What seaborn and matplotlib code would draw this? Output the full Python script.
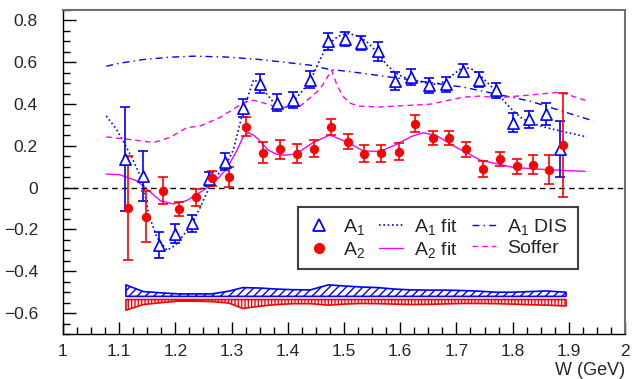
import numpy as np
import pandas as pd
import seaborn as sns
import matplotlib.pyplot as plt
from matplotlib.lines import Line2D
from matplotlib.ticker import MultipleLocator


# measured asymmetries
w_a1 = [1.110, 1.142, 1.171, 1.200, 1.230, 1.260, 1.289, 1.320, 1.350, 1.381, 1.410, 1.440, 1.471, 1.501,
        1.530, 1.560, 1.591, 1.620, 1.651, 1.681, 1.711, 1.741, 1.771, 1.801, 1.830, 1.860, 1.884]
a1 = [0.138, 0.054, -0.273, -0.221, -0.170, 0.041, 0.125, 0.382, 0.498, 0.406, 0.419, 0.517, 0.700, 0.711,
      0.692, 0.652, 0.510, 0.529, 0.489, 0.494, 0.560, 0.516, 0.465, 0.311, 0.327, 0.351, 0.184]
a1_err = [0.25, 0.12, 0.062, 0.045, 0.04, 0.035, 0.04, 0.042, 0.045, 0.041, 0.04, 0.04, 0.04, 0.035,
          0.035, 0.045, 0.045, 0.04, 0.035, 0.035, 0.03, 0.035, 0.035, 0.045, 0.04, 0.052, 0.135]

w_a2 = [1.116, 1.148, 1.178, 1.207, 1.236, 1.266, 1.296, 1.326, 1.356, 1.386, 1.416, 1.446, 1.476, 1.507,
        1.536, 1.566, 1.597, 1.626, 1.658, 1.687, 1.717, 1.747, 1.777, 1.807, 1.836, 1.865, 1.890]
a2 = [-0.097, -0.138, -0.014, -0.102, -0.046, 0.044, 0.049, 0.292, 0.168, 0.184, 0.163, 0.187, 0.290, 0.220,
      0.163, 0.165, 0.173, 0.306, 0.237, 0.237, 0.183, 0.089, 0.137, 0.102, 0.110, 0.086, 0.205]
a2_err = [0.25, 0.12, 0.063, 0.035, 0.04, 0.035, 0.048, 0.045, 0.05, 0.045, 0.045, 0.04, 0.04, 0.035,
          0.04, 0.04, 0.04, 0.04, 0.035, 0.035, 0.035, 0.04, 0.035, 0.035, 0.045, 0.07, 0.25]

# fits and models
w_a1fit = [1.077, 1.095, 1.110, 1.125, 1.142, 1.152, 1.167, 1.185, 1.200, 1.215, 1.230, 1.245, 1.260, 1.275,
           1.290, 1.303, 1.320, 1.339, 1.351, 1.362, 1.381, 1.398, 1.410, 1.425, 1.440, 1.455, 1.471, 1.490,
           1.505, 1.520, 1.540, 1.560, 1.575, 1.591, 1.605, 1.620, 1.651, 1.665, 1.681, 1.696, 1.711, 1.726,
           1.741, 1.756, 1.771, 1.786, 1.801, 1.815, 1.830, 1.860, 1.895, 1.932]
a1fit = [0.343, 0.28, 0.208, 0.13, 0.03, -0.125, -0.237, -0.300, -0.275, -0.225, -0.170, -0.09, 0.00, 0.06,
         0.11, 0.18, 0.36, 0.517, 0.50, 0.45, 0.386, 0.386, 0.414, 0.46, 0.51, 0.60, 0.684, 0.725,
         0.737, 0.73, 0.70, 0.645, 0.59, 0.549, 0.53, 0.517, 0.497, 0.495, 0.51, 0.545, 0.575, 0.57,
         0.54, 0.50, 0.46, 0.41, 0.367, 0.335, 0.311, 0.287, 0.265, 0.243]

w_a2fit = [1.077, 1.101, 1.131, 1.149, 1.173, 1.196, 1.220, 1.244, 1.266, 1.291, 1.309, 1.320, 1.330, 1.340,
           1.350, 1.365, 1.380, 1.395, 1.410, 1.425, 1.445, 1.475, 1.507, 1.534, 1.564, 1.594, 1.620, 1.641,
           1.665, 1.700, 1.720, 1.742, 1.801, 1.861, 1.929]
a2fit = [0.065, 0.062, 0.033, -0.006, -0.062, -0.078, -0.062, -0.022, 0.017, 0.089, 0.176, 0.24, 0.263, 0.25,
         0.224, 0.18, 0.16, 0.155, 0.16, 0.18, 0.216, 0.252, 0.216, 0.176, 0.173, 0.208, 0.245, 0.263,
         0.248, 0.192, 0.165, 0.132, 0.097, 0.086, 0.078]

w_dis = [1.077, 1.100, 1.143, 1.190, 1.232, 1.290, 1.350, 1.440, 1.475, 1.505, 1.594, 1.712, 1.831, 1.944]
a1_dis = [0.581, 0.595, 0.613, 0.624, 0.629, 0.625, 0.613, 0.586, 0.565, 0.557, 0.525, 0.481, 0.414, 0.319]

w_soffer = [1.077, 1.113, 1.161, 1.190, 1.220, 1.244, 1.279, 1.321, 1.339, 1.362, 1.386, 1.422, 1.457, 1.478,
            1.487, 1.497, 1.510, 1.525, 1.564, 1.653, 1.712, 1.742, 1.772, 1.831, 1.884, 1.929]
soffer = [0.243, 0.232, 0.216, 0.240, 0.287, 0.295, 0.335, 0.406, 0.418, 0.401, 0.382, 0.390, 0.470, 0.562,
          0.494, 0.440, 0.405, 0.390, 0.386, 0.399, 0.433, 0.438, 0.430, 0.443, 0.457, 0.418]

# systematic bands
w_sys = [1.112, 1.143, 1.175, 1.205, 1.235, 1.265, 1.295, 1.320, 1.350, 1.380, 1.410, 1.440, 1.472, 1.500,
         1.530, 1.560, 1.590, 1.620, 1.650, 1.680, 1.710, 1.740, 1.770, 1.800, 1.830, 1.860, 1.895]
a1_sys = [0.055, 0.023, 0.017, 0.012, 0.012, 0.012, 0.025, 0.042, 0.040, 0.035, 0.032, 0.031, 0.055, 0.050,
          0.045, 0.042, 0.035, 0.031, 0.030, 0.030, 0.028, 0.025, 0.020, 0.020, 0.023, 0.026, 0.020]
a2_sys = [0.051, 0.024, 0.015, 0.008, 0.008, 0.010, 0.017, 0.043, 0.032, 0.024, 0.020, 0.020, 0.027, 0.022,
          0.019, 0.020, 0.022, 0.024, 0.023, 0.021, 0.019, 0.019, 0.020, 0.022, 0.025, 0.027, 0.031]
a1_sys_base = -0.52
a2_sys_base = -0.535

BLUE = '#0000ff'
RED = '#ff0000'
MAG = '#ff00ff'

sns.set_style('ticks')
plt.rcParams['font.family'] = ['Liberation Sans', 'DejaVu Sans']
plt.rcParams['mathtext.fontset'] = 'custom'
plt.rcParams['mathtext.rm'] = 'Liberation Sans'
plt.rcParams['mathtext.default'] = 'rm'
plt.rcParams['hatch.linewidth'] = 1.0

fig = plt.figure(figsize=(6.38, 3.79), dpi=100)
ax = fig.add_axes([0.0987, 0.1187, 0.881, 0.855])

# curves
sns.lineplot(x=w_a1fit, y=a1fit, ax=ax, color=BLUE, lw=1.2, linestyle=(0, (1, 1.6)), sort=False, estimator=None)
sns.lineplot(x=w_dis, y=a1_dis, ax=ax, color=BLUE, lw=1.0, linestyle=(0, (5, 3, 1, 3)), sort=False, estimator=None)
sns.lineplot(x=w_a2fit, y=a2fit, ax=ax, color=MAG, lw=1.0, sort=False, estimator=None)
sns.lineplot(x=w_soffer, y=soffer, ax=ax, color=MAG, lw=1.0, linestyle=(0, (4, 3)), sort=False, estimator=None)

ax.axhline(0, color='black', lw=1.0, linestyle=(0, (4, 3)))

# data points with errors
ax.errorbar(w_a1, a1, yerr=a1_err, fmt='none', ecolor=BLUE, elinewidth=1.2, capsize=3.5, capthick=1.2)
ax.errorbar(w_a2, a2, yerr=a2_err, fmt='none', ecolor=RED, elinewidth=1.2, capsize=3.5, capthick=1.2)
sns.scatterplot(x=w_a1, y=a1, ax=ax, marker='^', s=65, facecolor='white', edgecolor=BLUE, linewidth=1.2, zorder=4)
sns.scatterplot(x=w_a2, y=a2, ax=ax, marker='o', s=45, color=RED, edgecolor=RED, linewidth=0, zorder=4)

# systematic bands
top1 = np.array(a1_sys) + a1_sys_base
bot2 = a2_sys_base - np.array(a2_sys)
ax.fill_between(w_sys, a1_sys_base, top1, facecolor='none', edgecolor=BLUE, hatch='////', lw=1.2)
ax.fill_between(w_sys, bot2, a2_sys_base, facecolor='none', edgecolor=RED, hatch='|||||', lw=1.2)

ax.set_xlim(1, 2)
ax.set_ylim(-0.7, 0.85)
ax.xaxis.set_major_locator(MultipleLocator(0.1))
ax.xaxis.set_minor_locator(MultipleLocator(0.025))
ax.yaxis.set_major_locator(MultipleLocator(0.2))
ax.yaxis.set_minor_locator(MultipleLocator(0.05))
ax.xaxis.set_major_formatter(lambda v, p: '{:g}'.format(round(v, 2)))
ax.yaxis.set_major_formatter(lambda v, p: '{:g}'.format(round(v, 2)).replace('-', '\u2212'))
ax.tick_params(which='both', direction='in', top=False, right=False, labelsize=12.5, width=1, color='black')
ax.tick_params(which='major', length=9)
ax.tick_params(which='minor', length=5)
ax.tick_params(axis='y', which='major', pad=18)
ax.tick_params(axis='x', which='major', pad=7)

for s in ['left', 'bottom']:
    ax.spines[s].set_color('black')
    ax.spines[s].set_linewidth(1.0)
for s in ['top', 'right']:
    ax.spines[s].set_visible(True)
    ax.spines[s].set_color('#707070')
    ax.spines[s].set_linewidth(1.5)

ax.set_xlabel('W (GeV)', loc='right', fontsize=13, labelpad=2)
ax.set_ylabel('')

handles = [
    Line2D([], [], ls='none', marker='^', ms=8, mfc='white', mec=BLUE, mew=1.3),
    Line2D([], [], ls='none', marker='o', ms=7, mfc=RED, mec=RED),
    Line2D([], [], color=BLUE, lw=1.2, ls=(0, (1, 1.6))),
    Line2D([], [], color=MAG, lw=1.0),
    Line2D([], [], color=BLUE, lw=1.0, ls=(0, (5, 3, 1, 3))),
    Line2D([], [], color=MAG, lw=1.0, ls=(0, (4, 3))),
]
labels = ['A$_1$', 'A$_2$', 'A$_1$ fit', 'A$_2$ fit', 'A$_1$ DIS', 'Soffer']
leg = ax.legend(handles, labels, ncol=3, loc='upper left', bbox_to_anchor=(0.418, 0.392),
                borderaxespad=0, fontsize=14, frameon=True, fancybox=False, framealpha=1,
                edgecolor='#404040', handlelength=1.2, handletextpad=0.6, columnspacing=0.75,
                labelspacing=0.15, borderpad=0.5)
leg.get_frame().set_linewidth(1.5)

fig.savefig('out.png', dpi=100)
